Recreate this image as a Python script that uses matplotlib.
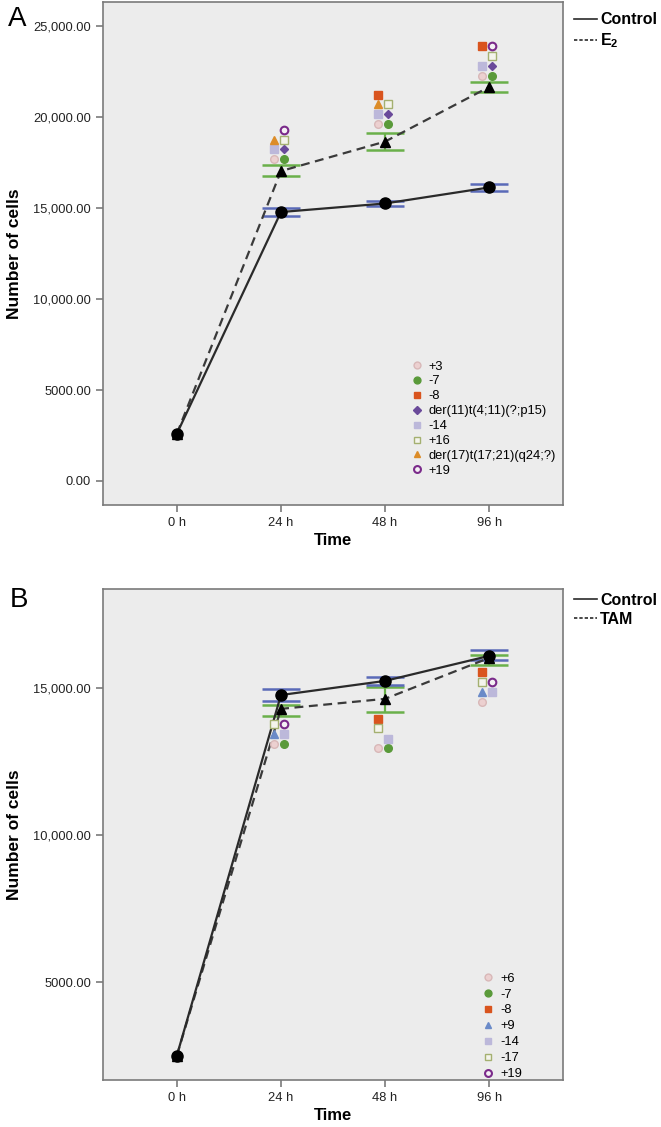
import numpy as np
import matplotlib.pyplot as plt
from matplotlib.lines import Line2D
from matplotlib.ticker import FuncFormatter

plt.rcParams['font.family'] = ['Liberation Sans', 'DejaVu Sans']
plt.rcParams['mathtext.fontset'] = 'custom'
plt.rcParams['mathtext.rm'] = 'Liberation Sans'
plt.rcParams['mathtext.bf'] = 'Liberation Sans:bold'

times = ["0 h", "24 h", "48 h", "96 h"]

# panel A: control vs E2
ctrl_a = [2600, 14780, 15250, 16130]
ctrl_a_lo = [np.nan, 14560, 15110, 15940]
ctrl_a_hi = [np.nan, 15000, 15390, 16320]
e2 = [2600, 17030, 18650, 21650]
e2_lo = [np.nan, 16760, 18190, 21370]
e2_hi = [np.nan, 17360, 19150, 21920]

# aberration sub-clones in panel A (24 h, 48 h, 96 h)
ab_a_labels = ["+3", "-7", "-8", "der(11)t(4;11)(?;p15)", "-14", "+16",
               "der(17)t(17;21)(q24;?)", "+19"]
ab_a_values = [
    [17690, 19600, 22250],
    [17690, 19600, 22250],
    [np.nan, 21200, 23900],
    [18240, 20150, 22800],
    [18240, 20150, 22800],
    [18740, 20700, 23350],
    [18740, 20700, np.nan],
    [19290, np.nan, 23900],
]

# panel B: control vs TAM
ctrl_b = [2500, 14760, 15240, 16090]
ctrl_b_lo = [np.nan, 14560, 15100, 15950]
ctrl_b_hi = [np.nan, 14970, 15370, 16290]
tam = [2500, 14290, 14630, 16020]
tam_lo = [np.nan, 14050, 14180, 15780]
tam_hi = [np.nan, 14420, 15030, 16120]

ab_b_labels = ["+6", "-7", "-8", "+9", "-14", "-17", "+19"]
ab_b_values = [
    [13095, 12960, 14520],
    [13095, 12960, np.nan],
    [np.nan, 13950, 15540],
    [13440, np.nan, 14860],
    [13440, 13265, 14860],
    [13780, 13640, 15200],
    [13780, np.nan, 15200],
]

# marker styles per aberration kind
pink = dict(marker='o', mfc='#ecd0d0', mec='#d8b8b8')
green = dict(marker='o', mfc='#5a9a3a', mec='#5a9a3a')
red = dict(marker='s', mfc='#d9541e', mec='#d9541e')
diam = dict(marker='D', mfc='#6a4a9a', mec='#6a4a9a', ms=4)
lav = dict(marker='s', mfc='#bcb8da', mec='#bcb8da')
hollow = dict(marker='s', mfc='#f4f4ec', mec='#a4b070')
orange = dict(marker='^', mfc='#dc8c28', mec='#dc8c28')
ring = dict(marker='o', mfc='#f4f0f4', mec='#7a2a8a', mew=1.5)
blue = dict(marker='^', mfc='#6a8ac8', mec='#6a8ac8')

L, R = -0.07, 0.03
styles_a = [(pink, L), (green, R), (red, L), (diam, R), (lav, L), (hollow, R), (orange, L), (ring, R)]
styles_b = [(pink, L), (green, R), (red, L), (blue, L), (lav, R), (hollow, L), (ring, R)]


def fmt(v, pos):
    return f"{v:,.2f}" if abs(v) >= 10000 else f"{v:.2f}"


def panel(ax, ctrl, clo, chi, trt, tlo, thi, labels, values, styles, yticks, ylim):
    x = np.arange(len(times))
    ax.set_facecolor('#ececec')
    for sp in ax.spines.values():
        sp.set_color('#7a7a7a')
        sp.set_linewidth(1.2)
    ctrl = np.array(ctrl, float)
    trt = np.array(trt, float)
    ax.errorbar(x, trt, yerr=[trt - np.array(tlo), np.array(thi) - trt], fmt='none',
                ecolor='#6ab04a', elinewidth=1.6, capsize=13.5, capthick=1.8, zorder=2)
    ax.errorbar(x, ctrl, yerr=[ctrl - np.array(clo), np.array(chi) - ctrl], fmt='none',
                ecolor='#5a6ab8', elinewidth=1.6, capsize=13.5, capthick=1.8, zorder=2)
    ax.plot(x, trt, color='#3a3a3a', lw=1.6, ls=(0, (4, 2.5)), marker='^', ms=7,
            mfc='black', mec='black', zorder=3)
    ax.plot(x, ctrl, color='#2a2a2a', lw=1.6, marker='o', ms=8,
            mfc='black', mec='black', zorder=4)
    handles = []
    for lab, vals, (st, off) in zip(labels, values, styles):
        kw = dict(ms=5.5, mew=1.0, ls='none')
        kw.update(st)
        ax.plot(x[1:] + off, vals, zorder=5, **kw)
        handles.append(Line2D([], [], label=lab, **kw))
    ax.set_xticks(x)
    ax.set_xticklabels(times)
    ax.set_xlim(-0.71, 3.71)
    ax.set_yticks(yticks)
    ax.set_ylim(*ylim)
    ax.yaxis.set_major_formatter(FuncFormatter(fmt))
    ax.tick_params(direction='out', length=5, width=1.2, color='#7a7a7a',
                   labelsize=9.3, labelcolor='#222222')
    ax.set_xlabel("Time", fontsize=12, fontweight='bold', labelpad=3)
    ax.set_ylabel("Number of cells", fontsize=12.5, fontweight='bold', labelpad=8)
    return handles


fig = plt.figure(figsize=(6.61, 11.27), dpi=100)
ax1 = fig.add_axes([0.1558, 0.5519, 0.6959, 0.4463])
ax2 = fig.add_axes([0.1558, 0.0417, 0.6959, 0.4357])

h1 = panel(ax1, ctrl_a, ctrl_a_lo, ctrl_a_hi, e2, e2_lo, e2_hi,
           ab_a_labels, ab_a_values, styles_a,
           [0, 5000, 10000, 15000, 20000, 25000], (-1320, 26320))
h2 = panel(ax2, ctrl_b, ctrl_b_lo, ctrl_b_hi, tam, tam_lo, tam_hi,
           ab_b_labels, ab_b_values, styles_b,
           [5000, 10000, 15000], (1667, 18367))

ax1.legend(handles=h1, loc='upper left', bbox_to_anchor=(0.655, 0.30), frameon=False,
           fontsize=9.3, handlelength=1.0, handletextpad=0.4, labelspacing=0.22,
           borderpad=0, markerscale=0.9)
ax2.legend(handles=h2, loc='upper left', bbox_to_anchor=(0.81, 0.232), frameon=False,
           fontsize=9.3, handlelength=1.0, handletextpad=0.4, labelspacing=0.3,
           borderpad=0, markerscale=0.9)

for y0, lab in [(0.996, r'$\mathbf{E_2}$'), (0.481, 'TAM')]:
    fig.legend(handles=[Line2D([], [], color='#2a2a2a', lw=1.2, label='Control'),
                        Line2D([], [], color='#2a2a2a', lw=1.2, ls=(0, (2, 1.2)), label=lab)],
               loc='upper left', bbox_to_anchor=(0.856, y0), frameon=False,
               prop=dict(size=11.5, weight='bold'), handlelength=1.45,
               handletextpad=0.2, labelspacing=0.25, borderpad=0)

fig.text(0.012, 0.983, "A", fontsize=20, va='center')
fig.text(0.015, 0.468, "B", fontsize=20, va='center')

fig.savefig("out.png", dpi=100, facecolor='white')
